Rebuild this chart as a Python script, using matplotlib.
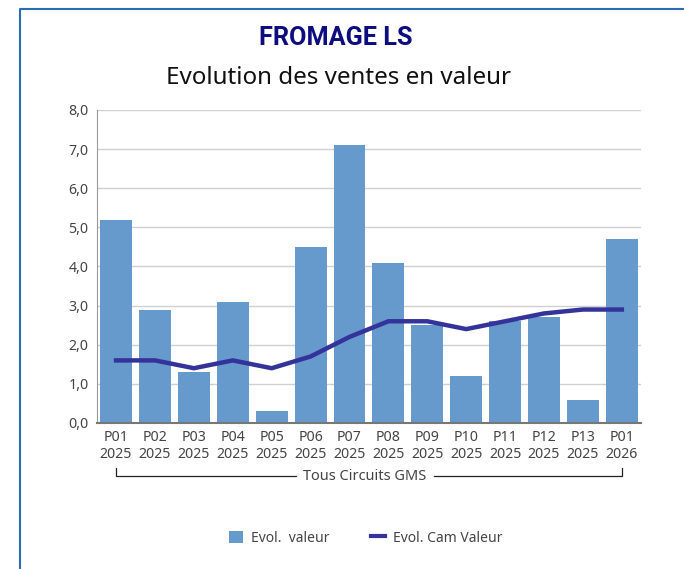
import numpy as np
import matplotlib.pyplot as plt
from matplotlib.lines import Line2D
from matplotlib.patches import Patch
from matplotlib.ticker import FuncFormatter

plt.rcParams["font.family"] = ["Noto Sans", "DejaVu Sans"]

periods = ["P01", "P02", "P03", "P04", "P05", "P06", "P07",
           "P08", "P09", "P10", "P11", "P12", "P13", "P01"]
years = ["2025"] * 13 + ["2026"]
evol_valeur = [5.2, 2.9, 1.3, 3.1, 0.3, 4.5, 7.1, 4.1, 2.5, 1.2, 2.6, 2.7, 0.6, 4.7]
evol_cam = [1.6, 1.6, 1.4, 1.6, 1.4, 1.7, 2.2, 2.6, 2.6, 2.4, 2.6, 2.8, 2.9, 2.9]

bar_color = "#6699cc"
line_color = "#333399"
text_color = "#444444"

fig = plt.figure(figsize=(6.84, 5.69), dpi=100)
ax = fig.add_axes([0.1418, 0.2566, 0.7952, 0.5501])

x = np.arange(len(periods))
ax.bar(x, evol_valeur, width=0.82, color=bar_color, zorder=2, label="Evol.  valeur")
ax.plot(x, evol_cam, color=line_color, lw=3.2, zorder=3, label="Evol. Cam Valeur")

ax.set_xlim(-0.49, len(x) - 0.51)
ax.set_ylim(0, 8)
ax.set_yticks(np.arange(0, 9, 1))
ax.yaxis.set_major_formatter(FuncFormatter(lambda v, p: f"{v:.1f}".replace(".", ",")))
ax.set_xticks(x)
ax.set_xticklabels([f"{p}\n{y}" for p, y in zip(periods, years)], linespacing=1.15)
ax.tick_params(axis="both", length=0, labelsize=10.2, labelcolor=text_color)
ax.tick_params(axis="x", pad=5)
ax.tick_params(axis="y", pad=6)
ax.grid(axis="y", color="#d0d0d0", lw=1, zorder=0)

for s in ["top", "right"]:
    ax.spines[s].set_visible(False)
ax.spines["left"].set_color("#999999")
ax.spines["bottom"].set_color("#777777")
ax.spines["bottom"].set_linewidth(1.5)
ax.spines["bottom"].set_zorder(4)

# group bracket under the x labels
def px(xp, yp):
    return xp / 684, 1 - yp / 569

x0, y_top = px(116, 468)
x1, y_bot = px(622, 476)
xm1, _ = px(296, 476)
xm2, _ = px(434, 476)
fig.add_artist(Line2D([x0, x0, xm1], [y_top, y_bot, y_bot], color="#222222", lw=0.9))
fig.add_artist(Line2D([xm2, x1, x1], [y_bot, y_bot, y_top], color="#222222", lw=0.9))
fig.text((xm1 + xm2) / 2, y_bot, "Tous Circuits GMS", ha="center", va="center",
         fontsize=10.5, color=text_color)

# titles
fig.text(336 / 684, 1 - 38 / 569, "FROMAGE LS", ha="center", va="center",
         fontsize=18.2, fontweight="bold", color="#0d0d80", family="Roboto")
fig.text(338 / 684, 1 - 78 / 569, "Evolution des ventes en valeur", ha="center", va="center",
         fontsize=17.4, color="#111111")

# legend
handles = [Patch(facecolor=bar_color, label="Evol.  valeur"),
           Line2D([0], [0], color=line_color, lw=3, label="Evol. Cam Valeur")]
fig.legend(handles=handles, loc="center", bbox_to_anchor=(0.535, 1 - 538 / 569), ncol=2,
           frameon=False, fontsize=10, handlelength=1.0, handleheight=1.0,
           handletextpad=0.6, columnspacing=3.0, labelcolor=text_color)

# frame border (left and top)
bx, by = px(20, 9)
fig.add_artist(Line2D([bx, bx, 1.0], [0.0, by, by], color="#2b6cb5", lw=1.5))

fig.savefig("out.png", dpi=100)
